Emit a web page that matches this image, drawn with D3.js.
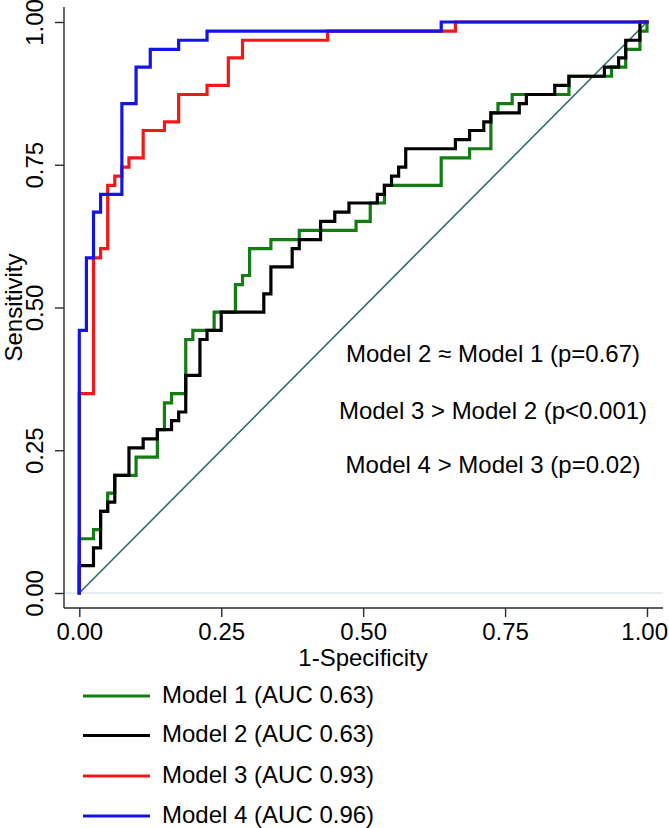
<!DOCTYPE html>
<html>
<head>
<meta charset="utf-8">
<script src="https://cdn.jsdelivr.net/npm/d3@7"></script>
<style>
  html, body { margin: 0; padding: 0; background: #fff; }
  svg { display: block; }
  text { font-family: "Liberation Sans", Arial, Helvetica, sans-serif; fill: #000; }
</style>
</head>
<body>
<svg id="chart" width="669" height="828"></svg>
<script>
// ---- Data ----
const tickValues = [0, 0.25, 0.5, 0.75, 1];
const tickLabels = ["0.00", "0.25", "0.50", "0.75", "1.00"];
const xTitle = "1-Specificity";
const yTitle = "Sensitivity";

const modelNames = ["Model 1 (AUC 0.63)", "Model 2 (AUC 0.63)", "Model 3 (AUC 0.93)", "Model 4 (AUC 0.96)"];
const modelColors = ["#137d13", "#000000", "#f21818", "#1414e6"];

// ROC points (1-specificity, sensitivity); steps go up first, then right
const model1FPR = [0, 0.025, 0.0375, 0.05, 0.0625, 0.1, 0.1375, 0.15, 0.1625, 0.1875, 0.2, 0.2375, 0.275, 0.2875, 0.3, 0.3375, 0.3875, 0.4875, 0.5125, 0.5375, 0.6375, 0.6875, 0.725, 0.7375, 0.7625, 0.8625, 0.9375, 0.9625, 0.9875, 1, 1];
const model1TPR = [0, 0.095, 0.111, 0.143, 0.175, 0.206, 0.238, 0.286, 0.333, 0.349, 0.444, 0.460, 0.492, 0.540, 0.556, 0.603, 0.619, 0.635, 0.651, 0.683, 0.714, 0.762, 0.778, 0.841, 0.857, 0.873, 0.905, 0.921, 0.952, 0.984, 1];

const model2FPR = [0, 0.025, 0.0375, 0.05, 0.0625, 0.0875, 0.1125, 0.1375, 0.1625, 0.175, 0.1875, 0.2125, 0.225, 0.25, 0.325, 0.3375, 0.375, 0.3875, 0.425, 0.45, 0.475, 0.525, 0.5375, 0.55, 0.5625, 0.575, 0.6625, 0.6875, 0.7125, 0.725, 0.775, 0.7875, 0.8375, 0.8625, 0.925, 0.95, 0.9625, 0.9875, 1];
const model2TPR = [0, 0.048, 0.079, 0.143, 0.159, 0.206, 0.254, 0.270, 0.286, 0.302, 0.317, 0.381, 0.444, 0.460, 0.492, 0.524, 0.571, 0.603, 0.619, 0.651, 0.667, 0.683, 0.698, 0.714, 0.730, 0.746, 0.778, 0.794, 0.810, 0.825, 0.841, 0.857, 0.873, 0.889, 0.905, 0.921, 0.937, 0.968, 1];

const model3FPR = [0, 0.025, 0.0375, 0.05, 0.0625, 0.075, 0.0875, 0.1125, 0.15, 0.175, 0.225, 0.2625, 0.2875, 0.4375, 0.6625, 1];
const model3TPR = [0, 0.349, 0.587, 0.603, 0.714, 0.730, 0.746, 0.762, 0.810, 0.825, 0.873, 0.889, 0.937, 0.968, 0.984, 1];

const model4FPR = [0, 0.0125, 0.025, 0.0375, 0.075, 0.1, 0.125, 0.175, 0.225, 0.6375, 1];
const model4TPR = [0, 0.460, 0.587, 0.667, 0.698, 0.857, 0.921, 0.952, 0.968, 0.984, 1];

const annotations = ["Model 2 \u2248 Model 1 (p=0.67)", "Model 3 > Model 2 (p<0.001)", "Model 4 > Model 3 (p=0.02)"];
const annotationY = [0.42, 0.32, 0.225];

// ---- Drawing ----
const svg = d3.select("#chart");
const x = d3.scaleLinear().domain([0, 1]).range([79.3, 647]);
const y = d3.scaleLinear().domain([0, 1]).range([593, 22]);
const axisColor = "#2b2b2b";
const fontSize = 24;

// reference grid line at 0
svg.append("line")
  .attr("x1", 64).attr("x2", 663).attr("y1", y(0)).attr("y2", y(0))
  .attr("stroke", "#dfe8ee").attr("stroke-width", 1.5);

// Y axis
const yAxis = svg.append("g").attr("transform", "translate(64,0)")
  .call(d3.axisLeft(y).tickValues(tickValues).tickFormat((d, i) => tickLabels[i]).tickSize(9).tickSizeOuter(0));
yAxis.select(".domain").remove();
yAxis.append("line").attr("x1", 0).attr("x2", 0).attr("y1", 7).attr("y2", 608)
  .attr("stroke", axisColor).attr("stroke-width", 1.4);
yAxis.selectAll(".tick line").attr("stroke", axisColor).attr("stroke-width", 1.4);
yAxis.selectAll(".tick text")
  .attr("x", 0).attr("y", 0).attr("dy", 0)
  .attr("transform", "translate(-21,0) rotate(-90)")
  .attr("text-anchor", "middle")
  .style("font-size", fontSize + "px")
  .style("font-family", "'Liberation Sans', Arial, sans-serif")
  .attr("fill", "#000");

// X axis
const xAxis = svg.append("g").attr("transform", "translate(0,608)")
  .call(d3.axisBottom(x).tickValues(tickValues).tickFormat((d, i) => tickLabels[i]).tickSize(9).tickSizeOuter(0));
xAxis.select(".domain").remove();
xAxis.append("line").attr("x1", 64).attr("x2", 663).attr("y1", 0).attr("y2", 0)
  .attr("stroke", axisColor).attr("stroke-width", 1.4);
xAxis.selectAll(".tick line").attr("stroke", axisColor).attr("stroke-width", 1.4);
xAxis.selectAll(".tick text")
  .attr("y", 32).attr("dy", 0)
  .attr("dx", (d, i) => i === tickValues.length - 1 ? -2.8 : 0)
  .style("font-size", fontSize + "px")
  .style("font-family", "'Liberation Sans', Arial, sans-serif")
  .attr("fill", "#000");

// Axis titles
svg.append("text").attr("x", 363).attr("y", 666).attr("text-anchor", "middle")
  .style("font-size", fontSize + "px").text(xTitle);
svg.append("text").attr("transform", `translate(22,${(y(0) + y(1)) / 2}) rotate(-90)`)
  .attr("text-anchor", "middle").style("font-size", fontSize + "px").text(yTitle);

// Diagonal reference
svg.append("line")
  .attr("x1", x(0)).attr("y1", y(0)).attr("x2", x(1)).attr("y2", y(1))
  .attr("stroke", "#2f6e68").attr("stroke-width", 1.6);

// ROC curves
const curves = [
  { fpr: model1FPR, tpr: model1TPR },
  { fpr: model2FPR, tpr: model2TPR },
  { fpr: model3FPR, tpr: model3TPR },
  { fpr: model4FPR, tpr: model4TPR }
];
const line = d3.line().x(d => x(d[0])).y(d => y(d[1])).curve(d3.curveStepBefore);
curves.forEach((c, i) => {
  const pts = c.fpr.map((v, j) => [v, c.tpr[j]]);
  svg.append("path").attr("d", line(pts))
    .attr("fill", "none").attr("stroke", modelColors[i])
    .attr("stroke-width", 3.2).attr("stroke-linejoin", "miter").attr("stroke-linecap", "square");
});

// Annotations
annotations.forEach((t, i) => {
  svg.append("text").attr("x", 493).attr("y", y(annotationY[i]) + 8.5)
    .attr("text-anchor", "middle").style("font-size", fontSize + "px").text(t);
});

// Legend
const legendY = [696, 735.5, 776, 816];
modelNames.forEach((name, i) => {
  svg.append("line").attr("x1", 83).attr("x2", 150).attr("y1", legendY[i]).attr("y2", legendY[i])
    .attr("stroke", modelColors[i]).attr("stroke-width", 3);
  svg.append("text").attr("x", 162).attr("y", legendY[i] + 6.5)
    .style("font-size", fontSize + "px").text(name);
});
</script>
</body>
</html>
